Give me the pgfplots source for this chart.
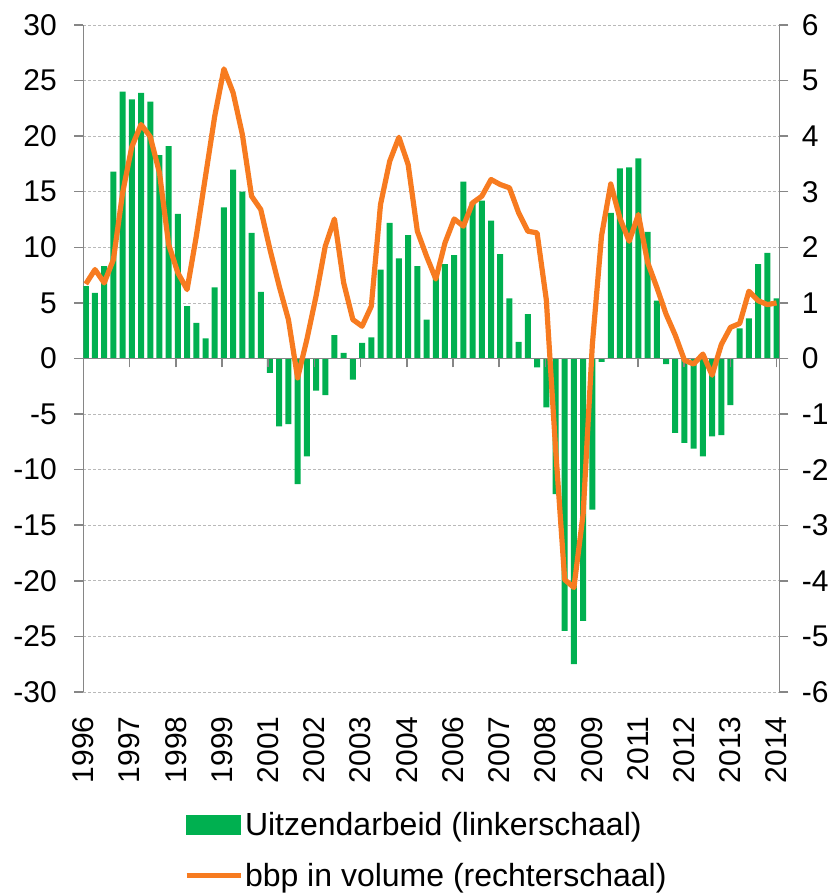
\documentclass[border=0pt]{standalone}
\usepackage{fontspec}
\setmainfont{Liberation Sans}
\usepackage{pgfplots}
\usepackage{pgfplotstable}
\pgfplotsset{compat=1.18}
\definecolor{bargreen}{RGB}{0,176,80}
\definecolor{lineorange}{RGB}{247,123,32}
\definecolor{axgray}{RGB}{134,134,134}
\definecolor{gridgray}{RGB}{185,185,185}

\pgfplotstableread{
i bar gdp
0 6.5 1.34
1 5.9 1.60
2 8.3 1.36
3 16.8 1.78
4 24.0 2.98
5 23.3 3.81
6 23.9 4.21
7 23.1 3.99
8 18.3 3.34
9 19.1 2.05
10 13.0 1.54
11 4.7 1.24
12 3.2 2.20
13 1.8 3.28
14 6.4 4.36
15 13.6 5.21
16 17.0 4.78
17 15.0 4.03
18 11.3 2.92
19 6.0 2.68
20 -1.3 1.96
21 -6.1 1.30
22 -5.9 0.70
23 -11.3 -0.35
24 -8.8 0.34
25 -2.9 1.12
26 -3.3 2.02
27 2.1 2.51
28 0.5 1.36
29 -1.9 0.70
30 1.4 0.58
31 1.9 0.94
32 8.0 2.77
33 12.2 3.55
34 9.0 3.98
35 11.1 3.49
36 8.3 2.29
37 3.5 1.84
38 7.4 1.43
39 8.5 2.08
40 9.3 2.51
41 15.9 2.38
42 14.1 2.80
43 14.2 2.92
44 12.4 3.22
45 9.4 3.13
46 5.4 3.07
47 1.5 2.62
48 4.0 2.29
49 -0.8 2.26
50 -4.4 1.06
51 -12.2 -1.60
52 -24.5 -3.98
53 -27.5 -4.12
54 -23.6 -2.80
55 -13.6 0.25
56 -0.3 2.21
57 13.1 3.14
58 17.1 2.52
59 17.2 2.11
60 18.0 2.59
61 11.4 1.73
62 5.2 1.28
63 -0.5 0.80
64 -6.7 0.42
65 -7.6 -0.03
66 -8.1 -0.10
67 -8.8 0.08
68 -7.0 -0.30
69 -6.9 0.25
70 -4.2 0.56
71 2.7 0.63
72 3.6 1.21
73 8.5 1.04
74 9.5 0.97
75 5.4 1.00
}\data

\pgfplotsset{
  common/.style={
    scale only axis, width=696pt, height=667pt,
    xmin=-0.27, xmax=75.3,
    /pgf/number format/assume math mode=true,
    tick label style={font=\fontsize{30}{35}\selectfont},
    major tick length=9pt,
  },
}
\def\xticklist{-0.27,4.75,9.77,14.78,19.8,24.82,29.84,34.86,39.87,44.89,49.91,54.93,59.95,64.96,69.98,75.0}

\begin{document}
\begin{tikzpicture}
\path[use as bounding box] (-83.3pt,-202pt) rectangle (751pt,692pt);
% bars, left axis
\begin{axis}[common,
  ymin=-30, ymax=30, ytick={-30,-25,...,30},
  axis y line*=left, axis x line*=bottom,
  x axis line style={draw=none},
  xtick=\xticklist,
  xticklabels={1996,1997,1998,1999,2001,2002,2003,2004,2006,2007,2008,2009,2011,2012,2013,2014},
  xtick style={draw=none},
  xticklabel style={rotate=90, anchor=east, xshift=-12pt},
  y axis line style={axgray, line width=1.5pt},
  ytick style={axgray, line width=1.5pt},
  yticklabel style={xshift=-14pt},
  tick align=outside,
  ymajorgrids,
  grid style={gridgray, dash pattern=on 3pt off 2pt, line width=0.8pt},
  ybar, bar width=6pt,
]
\addplot[fill=bargreen, draw=none] table[x=i, y=bar]{\data};
\end{axis}
% zero line with ticks
\begin{axis}[common,
  ymin=-30, ymax=30,
  axis y line=none, axis x line*=middle,
  x axis line style={axgray, line width=1.5pt},
  xtick=\xticklist, xticklabels={},
  xtick style={axgray, line width=1.5pt, yshift=-4.5pt},
  tick align=center,
]
\addplot[draw=none] coordinates {(0,0)};
\end{axis}
% line, right axis
\begin{axis}[common,
  ymin=-6, ymax=6, ytick={-6,-5,...,6},
  axis y line*=right, axis x line=none,
  y axis line style={axgray, line width=1.5pt},
  ytick style={axgray, line width=1.5pt},
  yticklabel style={xshift=10pt},
  tick align=outside,
  legend style={draw=none, fill=none, at={(axis description cs:0,0)}, anchor=north west,
    xshift=100.5pt, yshift=-118pt, inner sep=0pt,
    font=\fontsize{32}{37}\selectfont, row sep=22pt,
    /tikz/every odd column/.append style={column sep=0pt}},
  legend cell align=left,
]
\addlegendimage{legend image code/.code={\fill[bargreen] (0pt,-9.5pt) rectangle (54pt,9.5pt);}}
\addlegendentry{Uitzendarbeid (linkerschaal)}
\addplot[lineorange, line width=5.2pt, line join=round,
  legend image code/.code={\draw[lineorange, line width=5pt] (0pt,0pt) -- (54pt,0pt);}]
  table[x=i, y=gdp]{\data};
\addlegendentry{bbp in volume (rechterschaal)}
\end{axis}
\end{tikzpicture}
\end{document}
